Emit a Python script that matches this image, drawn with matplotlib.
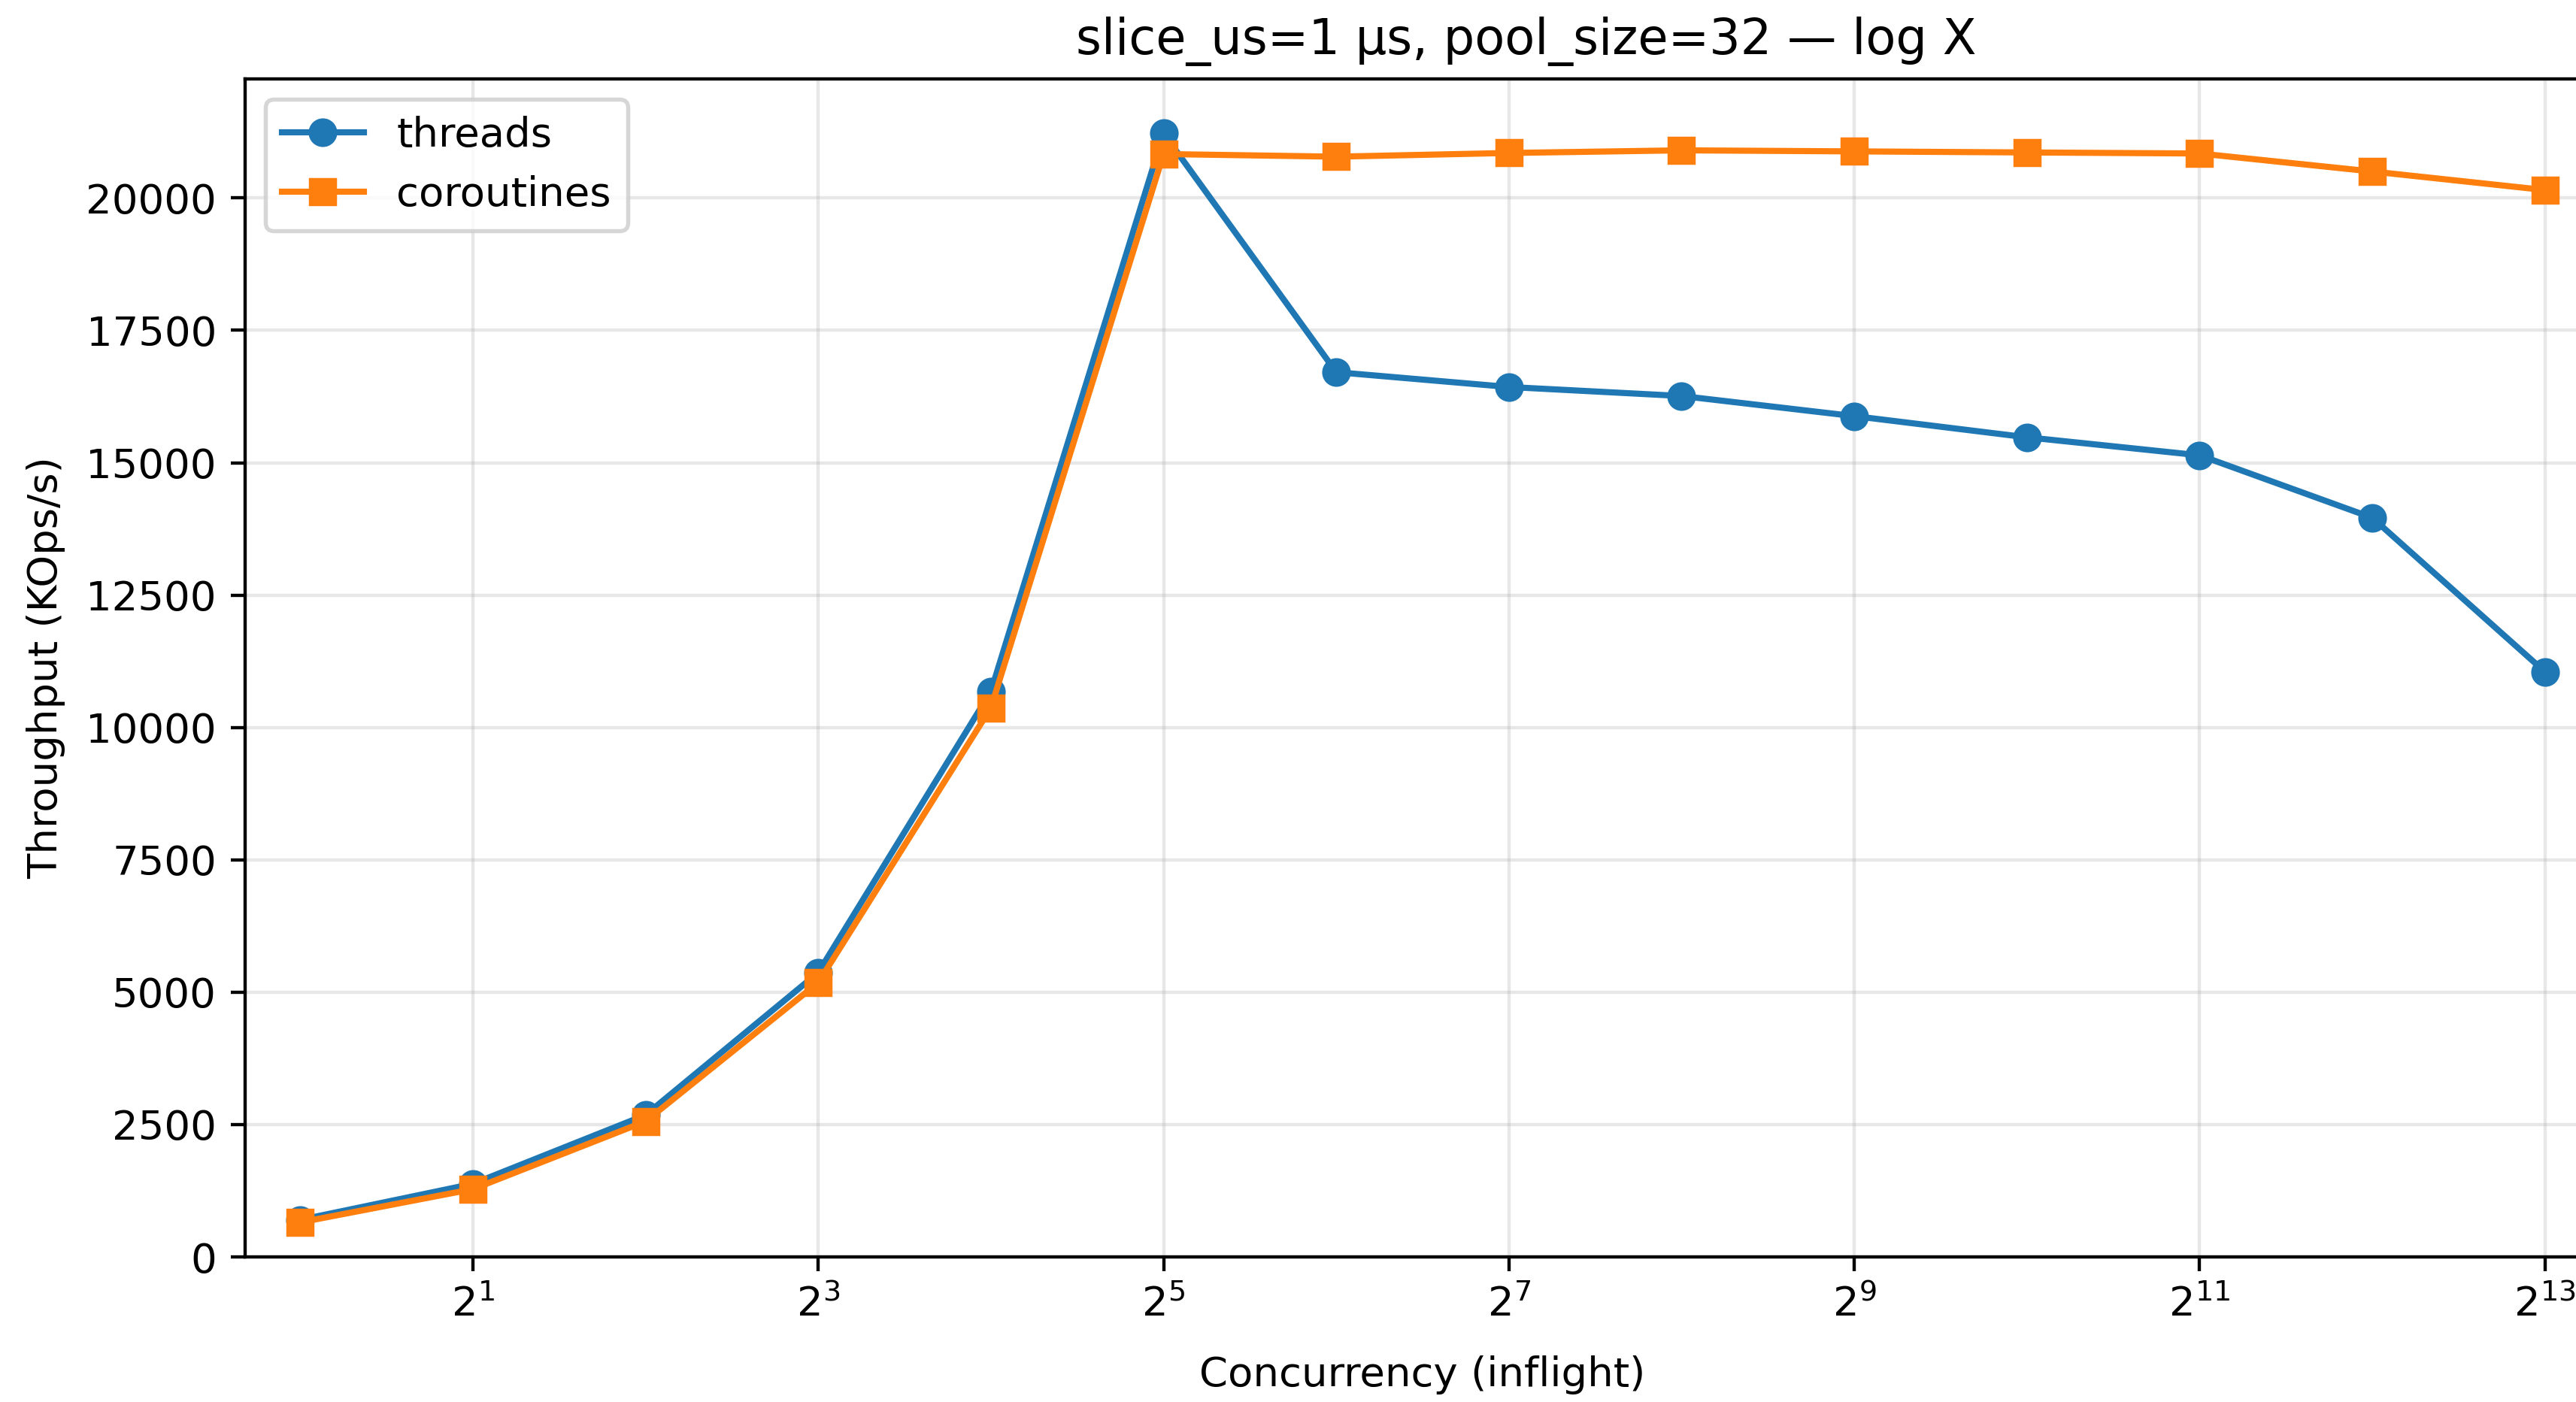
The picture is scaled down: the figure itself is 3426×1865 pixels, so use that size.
import matplotlib
matplotlib.use('Agg')
import matplotlib.pyplot as plt
from matplotlib.ticker import NullLocator

inflight = [1, 2, 4, 8, 16, 32, 64, 128, 256, 512, 1024, 2048, 4096, 8192]
threads = [700, 1380, 2680, 5370, 10680, 21220, 16710, 16430, 16260, 15880, 15480, 15140, 13960, 11050]
coroutines = [653, 1280, 2560, 5180, 10370, 20830, 20780, 20850, 20900, 20880, 20860, 20840, 20500, 20150]

dpi = 392
fig = plt.figure(figsize=(3426 / dpi, 1865 / dpi), dpi=dpi)
# axes runs off the right edge, as in the original crop
ax = fig.add_axes([326 / 3426, 193 / 1865, 3132 / 3426, 1567 / 1865])

ax.plot(inflight, threads, marker='o', label='threads')
ax.plot(inflight, coroutines, marker='s', label='coroutines')

ax.set_xscale('log', base=2)
ax.set_xticks([2, 8, 32, 128, 512, 2048, 8192])
ax.xaxis.set_minor_locator(NullLocator())
ax.set_xlim(2 ** -0.319, 2 ** 13.319)
ax.set_ylim(bottom=0)

ax.set_xlabel('Concurrency (inflight)', labelpad=7.5)
ax.set_ylabel('Throughput (KOps/s)', labelpad=5)
ax.set_title('slice_us=1 µs, pool_size=32 — log X', x=0.544)
ax.grid(True, alpha=0.3)
ax.legend(loc='upper left')

fig.savefig('out.png', dpi=dpi)
